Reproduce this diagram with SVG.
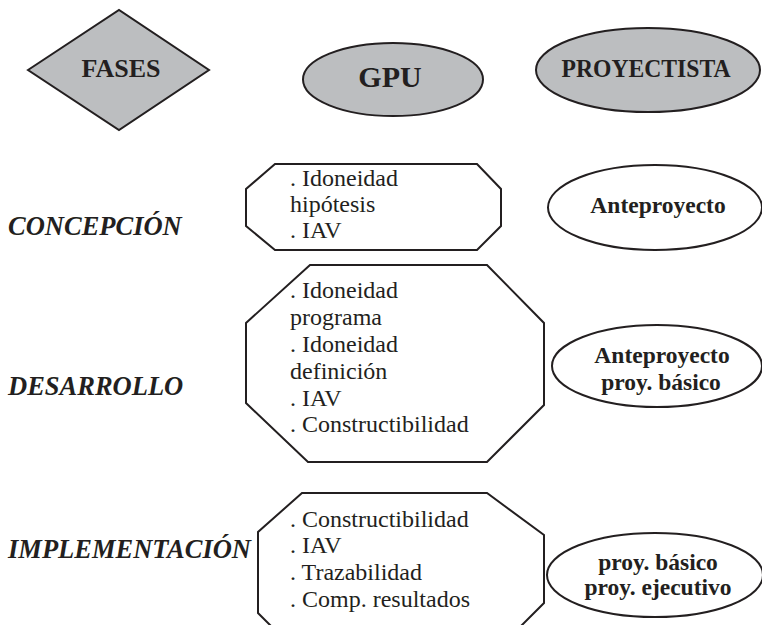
<svg xmlns="http://www.w3.org/2000/svg" width="762" height="625" viewBox="0 0 762 625" font-family="'Liberation Serif', 'DejaVu Serif', serif">
  <style>
    text { fill: #231f20; }
    .head { fill: #bcbec0; stroke: #231f20; stroke-width: 2; }
    .box { fill: #ffffff; stroke: #231f20; stroke-width: 2; stroke-linejoin: miter; }
    .hd { font-weight: bold; text-anchor: middle; }
    .phase { font-weight: bold; font-style: italic; font-size: 26.5px; }
    .item { font-size: 24px; }
    .out { font-weight: bold; font-size: 23.5px; text-anchor: middle; }
  </style>

  <rect width="762" height="625" fill="#ffffff"/>

  <!-- column headers -->
  <g id="hdr-fases">
    <polygon class="head" points="28,70 119,10 209,70 119,130"/>
    <text class="hd" x="121" y="77" font-size="26">FASES</text>
  </g>
  <g id="hdr-gpu">
    <ellipse class="head" cx="393" cy="79.5" rx="90" ry="36.5"/>
    <text class="hd" x="390" y="87" font-size="30">GPU</text>
  </g>
  <g id="hdr-proyectista">
    <ellipse class="head" cx="648" cy="70" rx="112" ry="42"/>
    <text class="hd" x="646" y="77" font-size="26" textLength="169" lengthAdjust="spacingAndGlyphs">PROYECTISTA</text>
  </g>

  <!-- phase labels -->
  <g id="phase-concepcion">
    <text class="phase" x="8" y="235">CONCEPCIÓN</text>
  </g>
  <g id="phase-desarrollo">
    <text class="phase" x="8" y="395">DESARROLLO</text>
  </g>
  <g id="phase-implementacion">
    <text class="phase" x="8" y="558">IMPLEMENTACIÓN</text>
  </g>

  <!-- GPU tasks -->
  <g id="gpu-concepcion">
    <polygon class="box" points="275,164 477,164 501,189 501,226 477,250 275,250 246,226 246,189"/>
    <text class="item" x="290" y="186">. Idoneidad</text>
    <text class="item" x="290" y="212">hipótesis</text>
    <text class="item" x="290" y="238">. IAV</text>
  </g>
  <g id="gpu-desarrollo">
    <polygon class="box" points="310,265 487,265 544,323 544,405 487,462 308,462 246,403 246,323"/>
    <text class="item" x="290" y="298">. Idoneidad</text>
    <text class="item" x="290" y="325">programa</text>
    <text class="item" x="290" y="352">. Idoneidad</text>
    <text class="item" x="290" y="379">definición</text>
    <text class="item" x="290" y="406">. IAV</text>
    <text class="item" x="290" y="432">. Constructibilidad</text>
  </g>
  <g id="gpu-implementacion">
    <polygon class="box" points="302,493 487,493 544,535 544,603 515,632 285,640 258,613 258,532"/>
    <text class="item" x="290" y="527">. Constructibilidad</text>
    <text class="item" x="290" y="553">. IAV</text>
    <text class="item" x="290" y="580">. Trazabilidad</text>
    <text class="item" x="290" y="607">. Comp. resultados</text>
  </g>

  <!-- designer deliverables -->
  <g id="proy-concepcion">
    <ellipse class="box" cx="655" cy="207.5" rx="107" ry="42.5"/>
    <text class="out" x="658" y="213">Anteproyecto</text>
  </g>
  <g id="proy-desarrollo">
    <ellipse class="box" cx="657" cy="366" rx="105" ry="41"/>
    <text class="out" x="662" y="363">Anteproyecto</text>
    <text class="out" x="661" y="390">proy. básico</text>
  </g>
  <g id="proy-implementacion">
    <ellipse class="box" cx="655" cy="575" rx="108" ry="42"/>
    <text class="out" x="658" y="570">proy. básico</text>
    <text class="out" x="658" y="595">proy. ejecutivo</text>
  </g>

  <g id="connectors"/>
</svg>
